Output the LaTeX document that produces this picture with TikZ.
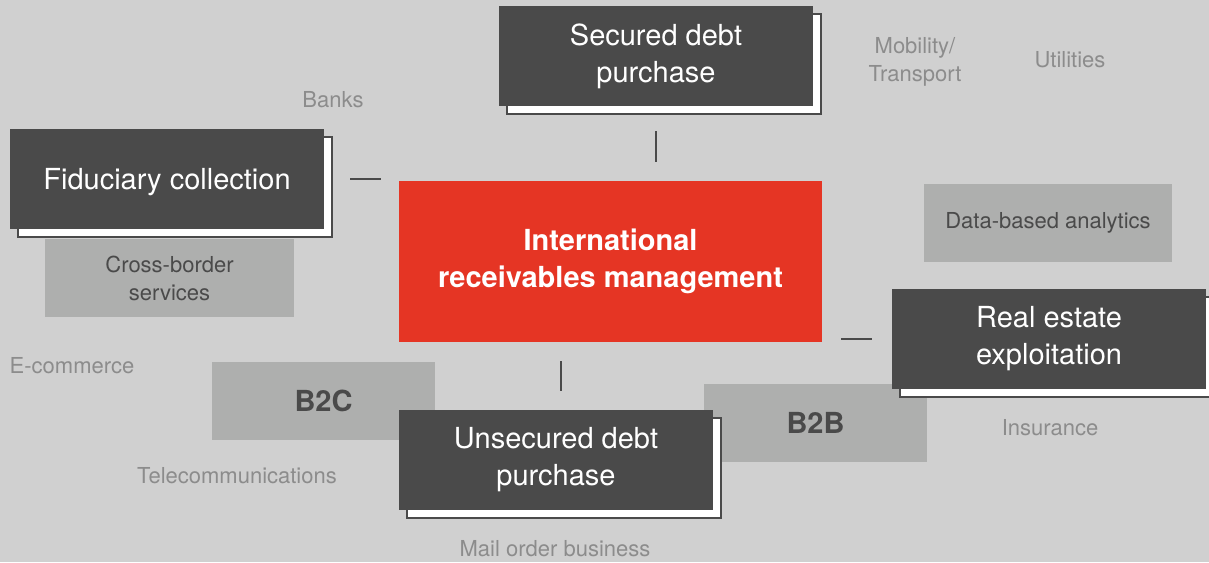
\documentclass[tikz,border=0pt]{standalone}
\usepackage{fontspec}
\setmainfont{TeX Gyre Heros}
\usetikzlibrary{shadows}
\definecolor{bgray}{HTML}{D0D0D0}
\definecolor{lgray}{HTML}{AEAFAE}
\definecolor{dgray}{HTML}{4A4A4A}
\definecolor{tgray}{HTML}{8C8C8C}
\definecolor{ired}{HTML}{E53524}
\tikzset{
	big/.style={font=\fontsize{21.75}{27.75}\selectfont},
	bigbold/.style={font=\fontsize{21.75}{27.75}\selectfont\bfseries},
	dbox/.style={big, fill=dgray, text=white, align=center, minimum width=235.5pt, minimum height=75pt, inner sep=0pt,
		general shadow={shadow xshift=6pt, shadow yshift=-6pt, fill=white, draw=dgray, line width=1.5pt}},
	lbox/.style={fill=lgray, text=dgray, align=center, minimum height=58.5pt, inner sep=0pt, font=\fontsize{16.5}{21}\selectfont},
	tag/.style={text=tgray, anchor=base, inner sep=0pt, font=\fontsize{16.5}{21}\selectfont},
	link/.style={draw=dgray, line width=1.5pt}
}
\begin{document}
\begin{tikzpicture}[x=0.75pt,y=-0.75pt]
					\fill[bgray] (0,0) rectangle (1209,562);
					\node[lbox, minimum width=186.75pt] (cross) at (169.5,278) {Cross-border\\services};
					\node[lbox, minimum width=186pt] (data) at (1048,223) {Data-based analytics};
					\node[lbox, minimum width=167.25pt, bigbold] (btoc) at (323.5,401) {B2C};
					\node[lbox, minimum width=167.25pt, bigbold] (btob) at (815.5,423) {B2B};
					\node[bigbold, fill=ired, text=white, align=center, minimum width=317.25pt, minimum height=120.75pt] (irm) at (610.5,261.5) {International\\receivables management};
					\node[dbox] (sec) at (656,56) {Secured debt\\purchase};
					\node[dbox] (fid) at (167,179) {\raisebox{-7.5pt}[0pt][0pt]{Fiduciary collection}};
					\node[dbox] (unsec) at (556,459.5) {Unsecured debt\\purchase};
					\node[dbox] (real) at (1049,339) {Real estate\\exploitation};
					\draw[link, shorten <=19.5pt, shorten >=13.5pt] (fid.east) -- (fid.east -| irm.west);
					\draw[link, shorten <=18.75pt, shorten >=14.25pt] (sec.south) -- (sec.south |- irm.north);
					\draw[link, shorten <=14.25pt, shorten >=13.5pt] ([xshift=3.75pt]unsec.north |- irm.south) -- ([xshift=3.75pt]unsec.north);
					\draw[link, shorten <=14.25pt, shorten >=15pt] (irm.east |- real.west) -- (real.west);
					\node[tag] (banks) at (333,107) {Banks};
					\node[tag, anchor=center, align=center] (mob) at (915,62) {Mobility/\\Transport};
					\node[tag] (util) at (1070,67) {Utilities};
					\node[tag] (ecom) at (72,373) {E-commerce};
					\node[tag] (tele) at (237,483) {Telecommunications};
					\node[tag] (mail) at (555,556) {Mail order business};
					\node[tag] (ins) at (1050,435) {Insurance};
\end{tikzpicture}
\end{document}
